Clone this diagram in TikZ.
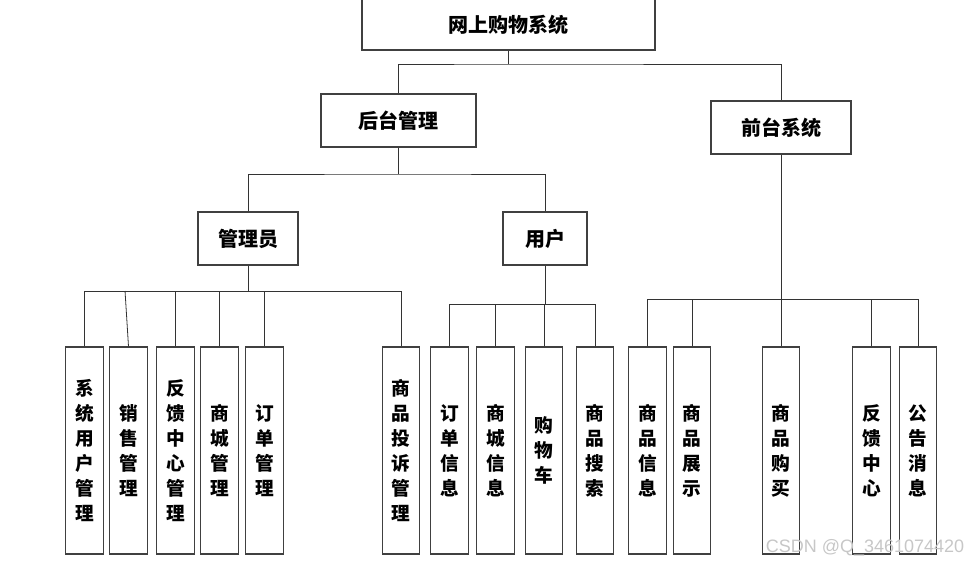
\documentclass[tikz,border=0pt]{standalone}
\usepackage{fontspec}
\newfontfamily\cjk{Noto Sans CJK SC}
\newfontfamily\wmfont{Liberation Sans}
\tikzset{
	box/.style={draw=black!75,line width=0.8pt,inner sep=0pt,fill=white,
		font=\cjk\bfseries\fontsize{15}{18}\selectfont},
	leaf/.style={box,minimum width=28pt,minimum height=155.25pt,text width=20pt,align=center,
		font=\cjk\bfseries\fontsize{14}{18.75}\selectfont},
	link/.style={draw=black!80,line width=0.6pt}
}
\begin{document}
\begin{tikzpicture}[x=0.75pt,y=-0.75pt]
	\useasboundingbox (0,0) rectangle (979,567);
	% obere Ebenen
	\node[box,minimum width=219.75pt,minimum height=38.25pt] (sys) at (508.5,24.5) {网上购物系统};
	\node[box,minimum width=116.25pt,minimum height=39.75pt] (hou) at (398.5,120.5) {后台管理};
	\node[box,minimum width=105pt,minimum height=39.75pt] (qian) at (781,127.5) {前台系统};
	\node[box,minimum width=75pt,minimum height=39.75pt] (gly) at (248,238.5) {管理员};
	\node[box,minimum width=63pt,minimum height=39.75pt] (yh) at (545,238.5) {用户};
	% Blaetter links
	\node[leaf] (a1) at (84.5,450.5) {系\\统\\用\\户\\管\\理};
	\node[leaf] (a2) at (128.5,450.5) {销\\售\\管\\理};
	\node[leaf] (a3) at (175.5,450.5) {反\\馈\\中\\心\\管\\理};
	\node[leaf] (a4) at (219.5,450.5) {商\\城\\管\\理};
	\node[leaf] (a5) at (264.5,450.5) {订\\单\\管\\理};
	\node[leaf] (a6) at (401,450.5) {商\\品\\投\\诉\\管\\理};
	% Blaetter Mitte
	\node[leaf] (b1) at (449.5,450.5) {订\\单\\信\\息};
	\node[leaf] (b2) at (495.5,450.5) {商\\城\\信\\息};
	\node[leaf] (b3) at (544,450.5) {购\\物\\车};
	\node[leaf] (b4) at (595,450.5) {商\\品\\搜\\索};
	% Blaetter rechts
	\node[leaf] (c1) at (647.5,450.5) {商\\品\\信\\息};
	\node[leaf] (c2) at (692,450.5) {商\\品\\展\\示};
	\node[leaf] (c3) at (781,450.5) {商\\品\\购\\买};
	\node[leaf] (c4) at (871.5,450.5) {反\\馈\\中\\心};
	\node[leaf] (c5) at (918,450.5) {公\\告\\消\\息};
	% Verbindungen
	\coordinate (bus1) at (508.5,64);
	\coordinate (bus2) at (398.5,174);
	\coordinate (bus3) at (248,291);
	\coordinate (bus4) at (545,304);
	\coordinate (bus5) at (781,299);
	\draw[link] (sys.south) -- (bus1);
	\draw[link] (hou.north) |- (bus1) -| (qian.north);
	\draw[link] (hou.south) -- (bus2);
	\draw[link] (gly.north) |- (bus2) -| (yh.north);
	\draw[link] (gly.south) -- (bus3);
	\draw[link] (a1.north |- bus3) -- (a6.north |- bus3);
	\foreach \n in {a1,a3,a4,a5,a6}
		\draw[link] (\n.north) -- (\n.north |- bus3);
	\draw[link] (a2.north) -- ([xshift=-2.6pt]a2.north |- bus3);
	\draw[link] (yh.south) -- (bus4);
	\draw[link] (b1.north |- bus4) -- (b4.north |- bus4);
	\foreach \n in {b1,b2,b3,b4}
		\draw[link] (\n.north) -- (\n.north |- bus4);
	\draw[link] (qian.south) -- (c3.north);
	\draw[link] (c1.north |- bus5) -- (c5.north |- bus5);
	\foreach \n in {c1,c2,c4,c5}
		\draw[link] (\n.north) -- (\n.north |- bus5);
	% Wasserzeichen
	\node[font=\wmfont\fontsize{13.5}{16}\selectfont,text=black!22,inner sep=0pt] (wm) at (865,548) {CSDN @Q\_3461074420};
\end{tikzpicture}
\end{document}
